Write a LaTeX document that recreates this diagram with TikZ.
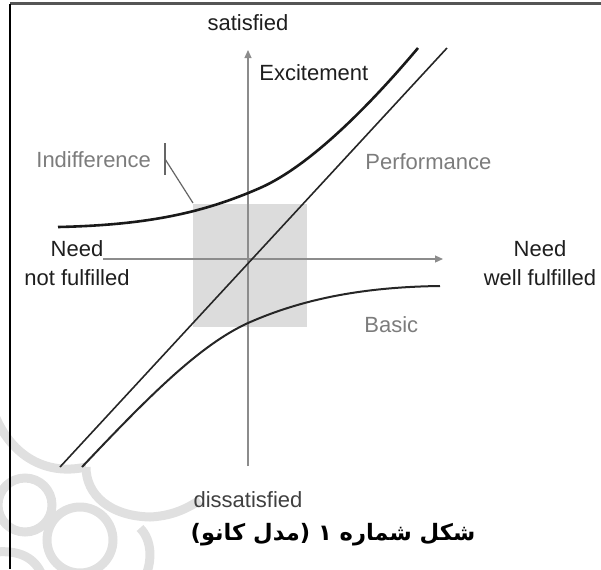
\documentclass[tikz,border=0pt]{standalone}
\usepackage{fontspec}
\setmainfont{Liberation Sans}
\newfontfamily\farsifont[Script=Arabic]{DejaVu Sans}
\TeXXeTstate=1
\usetikzlibrary{arrows.meta}

\definecolor{axisgray}{HTML}{8C8C8C}
\definecolor{labelgray}{HTML}{7C7C7C}
\definecolor{textdark}{HTML}{1E1E1E}
\definecolor{boxgray}{HTML}{DCDCDC}
\definecolor{markgray}{HTML}{E0E0E0}
\definecolor{framegray}{HTML}{555555}

\begin{document}
\begin{tikzpicture}[x=0.5pt,y=-0.5pt,
    axisline/.style={draw=axisgray,line width=0.6pt,-{Triangle[length=4pt,width=3.5pt]}}]
        \useasboundingbox (0,0) rectangle (601,569);

        % watermark
        \begin{scope}[draw=markgray,line width=4.5pt]
          \clip (0,380) rectangle (230,569);
          \draw (-4,418) .. controls (12,455) and (45,476) .. (86,467);
          \draw (86,467) .. controls (86,495) and (110,516) .. (150,517) .. controls (170,516) and (185,510) .. (200,500);
          \draw (25,505) circle[radius=27];
          \draw (80,540) circle[radius=33];
          \draw (140,528) .. controls (152,540) and (152,560) .. (146,575);
          \draw (-4,552) .. controls (20,550) and (35,558) .. (42,575);
        \end{scope}

        % frame
        \coordinate (frameTL) at (10,3.5);
        \coordinate (frameTR) at (601,3.5);
        \coordinate (frameBL) at (10,569);
        \draw[framegray,line width=1.3pt] (frameTL) -- (frameTR);
        \draw[black,line width=0.8pt] (frameTL) -- (frameBL);

        % indifference zone
        \coordinate (boxA) at (193,204);
        \coordinate (boxB) at (307,327);
        \fill[boxgray] (boxA) rectangle (boxB);

        % axes
        \coordinate (ybot)  at (248,466);
        \coordinate (ytop)  at (248,50);
        \coordinate (xleft) at (103,259);
        \coordinate (xright) at (443,259);
        \draw[axisline] (ybot) -- (ytop);
        \draw[axisline] (xleft) -- (xright);

        % curves
        \coordinate (excLo)  at (58,227);
        \coordinate (excMid) at (260,188);
        \coordinate (excHi)  at (418,48);
        \coordinate (perfLo) at (60,467);
        \coordinate (perfHi) at (447,48);
        \coordinate (basLo)  at (82,467);
        \coordinate (basMid) at (248,323);
        \coordinate (basHi)  at (440,286);
        \draw[black!90,line width=1.3pt] (excLo) .. controls (150,225) and (205,212) .. (excMid)
          .. controls (310,166) and (370,105) .. (excHi);
        \draw[black!85,line width=0.8pt] (perfLo) -- (perfHi);
        \draw[black!85,line width=1pt] (basLo) .. controls (150,395) and (200,345) .. (basMid)
          .. controls (300,300) and (360,287) .. (basHi);

        % indifference pointer
        \coordinate (ptTop) at (165,143);
        \coordinate (ptBot) at (165,175);
        \coordinate (ptKnee) at (165,159);
        \coordinate (ptEnd) at (193,203);
        \draw[black!60,line width=0.6pt] (ptTop) -- (ptBot);
        \draw[black!60,line width=0.6pt] (ptKnee) -- (ptEnd);

        % labels
        \begin{scope}[every node/.style={inner sep=0pt,text=textdark,font=\fontsize{11}{14.5}\selectfont}]
          \node (sat)    at (248,23)  {satisfied};
          \node[text=black!75] (dissat) at (248,500) {dissatisfied};
          \node[anchor=west] (exc) at (259,73) {Excitement};
          \node[align=center] (needLo) at (77,263)  {Need\\not fulfilled};
          \node[align=center] (needHi) at (540,263) {Need\\well fulfilled};
          \node[anchor=west,text=labelgray] (perf)   at (365,162) {Performance};
          \node[anchor=west,text=labelgray] (basic)  at (364,325) {Basic};
          \node[anchor=west,text=labelgray] (indiff) at (36,160)  {Indifference};
          \node[text=black] (caption) at (333,535)
            {\farsifont\bfseries\fontsize{11.3}{14}\selectfont\beginR شکل شماره ۱ (مدل کانو)\endR};
        \end{scope}

      \end{tikzpicture}
\end{document}
